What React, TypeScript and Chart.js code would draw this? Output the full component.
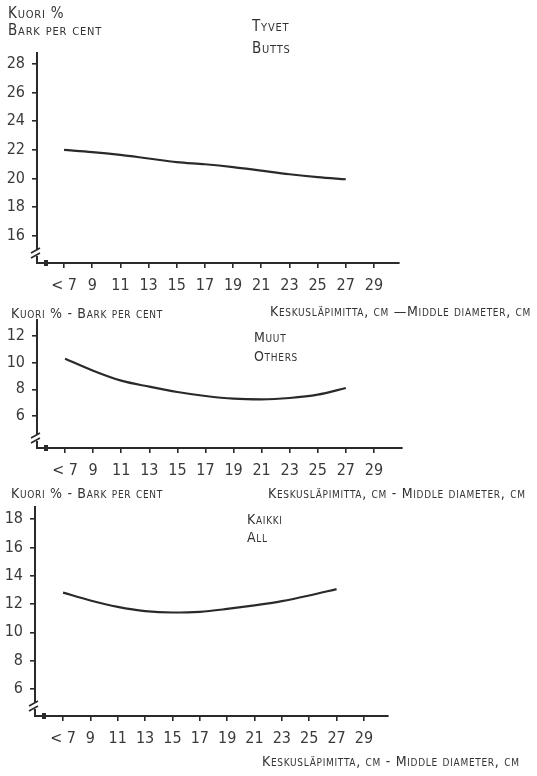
import React, { useEffect, useRef } from 'react';
import { Chart, registerables } from 'chart.js';

Chart.register(...registerables);

// ---- data ----
const diameters = [7, 9, 11, 13, 15, 17, 19, 21, 23, 25, 27];
const xTicks = [7, 9, 11, 13, 15, 17, 19, 21, 23, 25, 27, 29];
const xTickLabels = ['< 7', '9', '11', '13', '15', '17', '19', '21', '23', '25', '27', '29'];

const buttsBark = [22.0, 21.85, 21.65, 21.4, 21.15, 21.0, 20.8, 20.55, 20.3, 20.1, 19.95];
const othersBark = [10.3, 9.4, 8.65, 8.2, 7.8, 7.5, 7.3, 7.25, 7.35, 7.6, 8.1];
const allBark = [12.8, 12.25, 11.8, 11.5, 11.4, 11.45, 11.65, 11.9, 12.2, 12.6, 13.05];

const buttsYTicks = [16, 18, 20, 22, 24, 26, 28];
const othersYTicks = [6, 8, 10, 12];
const allYTicks = [6, 8, 10, 12, 14, 16, 18];

const INK = '#2a2a2a';
const TICK_FONT = '"DejaVu Sans Condensed", "Liberation Sans Narrow", sans-serif';

const breakPlugin = {
  id: 'axisBreak',
  afterDraw(chart: any) {
    const { left, bottom } = chart.chartArea;
    const ctx = chart.ctx;
    ctx.save();
    ctx.fillStyle = '#ffffff';
    ctx.fillRect(left - 2, bottom - 13, 4, 6);
    ctx.strokeStyle = INK;
    ctx.lineWidth = 1.6;
    ctx.beginPath();
    ctx.moveTo(left - 6, bottom - 10);
    ctx.lineTo(left + 3, bottom - 15);
    ctx.moveTo(left - 6, bottom - 5);
    ctx.lineTo(left + 3, bottom - 10);
    ctx.stroke();
    ctx.fillStyle = INK;
    ctx.fillRect(left + 7, bottom - 3, 4, 6);
    ctx.restore();
  },
};

type PanelProps = {
  top: number;
  height: number;
  padTop: number;
  padRight: number;
  yAxisWidth: number;
  xAxisHeight: number;
  xMin: number;
  xMax: number;
  yMin: number;
  yMax: number;
  values: number[];
  yTicks: number[];
};

function Panel(p: PanelProps) {
  const ref = useRef<HTMLCanvasElement | null>(null);
  useEffect(() => {
    if (!ref.current) return;
    const chart = new Chart(ref.current, {
      type: 'line',
      data: {
        datasets: [
          {
            data: diameters.map((d, i) => ({ x: d, y: p.values[i] })),
            borderColor: INK,
            borderWidth: 2.2,
            pointRadius: 0,
            cubicInterpolationMode: 'monotone',
            fill: false,
          },
        ],
      },
      options: {
        responsive: false,
        animation: false,
        events: [],
        layout: { padding: { left: 0, right: p.padRight, top: p.padTop, bottom: 0 } },
        plugins: { legend: { display: false }, tooltip: { enabled: false }, title: { display: false } },
        scales: {
          x: {
            type: 'linear',
            min: p.xMin,
            max: p.xMax,
            afterFit: (s: any) => {
              s.height = p.xAxisHeight;
            },
            afterBuildTicks: (s: any) => {
              s.ticks = xTicks.map((v) => ({ value: v }));
            },
            grid: { drawOnChartArea: false, drawTicks: true, tickLength: 5, color: INK, lineWidth: 1.6 },
            border: { display: true, color: INK, width: 2 },
            ticks: {
              autoSkip: false,
              maxRotation: 0,
              padding: 8,
              color: '#3a3a3a',
              font: { family: TICK_FONT, size: 16 },
              callback: (v: any) => {
                const i = xTicks.indexOf(Number(v));
                return i >= 0 ? xTickLabels[i] : '';
              },
            },
          },
          y: {
            type: 'linear',
            min: p.yMin,
            max: p.yMax,
            afterFit: (s: any) => {
              s.width = p.yAxisWidth;
            },
            afterBuildTicks: (s: any) => {
              s.ticks = p.yTicks.map((v) => ({ value: v }));
            },
            grid: { drawOnChartArea: false, drawTicks: true, tickLength: 5, color: INK, lineWidth: 1.6 },
            border: { display: true, color: INK, width: 2 },
            ticks: {
              autoSkip: false,
              padding: 7,
              color: '#3a3a3a',
              font: { family: TICK_FONT, size: 16 },
              callback: (v: any) => String(v),
            },
          },
        },
      },
      plugins: [breakPlugin],
    } as any);
    return () => chart.destroy();
  }, []);
  return (
    <canvas
      ref={ref}
      width={537}
      height={p.height}
      style={{ position: 'absolute', left: 0, top: p.top, width: 537, height: p.height }}
    />
  );
}

function T({ x, y, size = 14, children }: { x: number; y: number; size?: number; children: React.ReactNode }) {
  return (
    <div
      style={{
        position: 'absolute',
        left: x,
        top: y - Math.round(0.846 * size),
        fontFamily: '"DejaVu Sans Condensed", "DejaVu Sans", sans-serif',
        fontVariant: 'small-caps',
        fontSize: size,
        lineHeight: size + 'px',
        letterSpacing: size >= 15 ? 0.8 : 0.7,
        color: '#333',
        whiteSpace: 'nowrap',
      }}
    >
      {children}
    </div>
  );
}

export default function App() {
  return (
    <div style={{ position: 'absolute', left: 0, top: 0, width: 537, height: 776, background: '#fff', overflow: 'hidden' }}>
      <Panel
        top={0}
        height={300}
        padTop={53}
        padRight={138}
        yAxisWidth={37}
        xAxisHeight={37}
        xMin={5.08}
        xMax={30.78}
        yMin={14.1}
        yMax={28.77}
        values={buttsBark}
        yTicks={buttsYTicks}
      />
      <Panel
        top={300}
        height={180}
        padTop={20}
        padRight={135}
        yAxisWidth={37}
        xAxisHeight={32}
        xMin={5.0}
        xMax={31.0}
        yMin={3.6}
        yMax={13.2}
        values={othersBark}
        yTicks={othersYTicks}
      />
      <Panel
        top={480}
        height={296}
        padTop={27}
        padRight={149}
        yAxisWidth={35}
        xAxisHeight={60}
        xMin={4.95}
        xMax={30.76}
        yMin={4.09}
        yMax={18.85}
        values={allBark}
        yTicks={allYTicks}
      />

      <T x={8} y={19} size={15}>Kuori %</T>
      <T x={8} y={36} size={15}>Bark per cent</T>
      <T x={252} y={32} size={15}>Tyvet</T>
      <T x={252} y={54} size={15}>Butts</T>
      <T x={270} y={316}>Keskusläpimitta, cm —Middle diameter, cm</T>

      <T x={11} y={318}>Kuori % - Bark per cent</T>
      <T x={254} y={342}>Muut</T>
      <T x={254} y={361}>Others</T>
      <T x={268} y={498}>Keskusläpimitta, cm - Middle diameter, cm</T>

      <T x={11} y={498}>Kuori % - Bark per cent</T>
      <T x={247} y={524}>Kaikki</T>
      <T x={247} y={542}>All</T>
      <T x={262} y={766}>Keskusläpimitta, cm - Middle diameter, cm</T>
    </div>
  );
}
